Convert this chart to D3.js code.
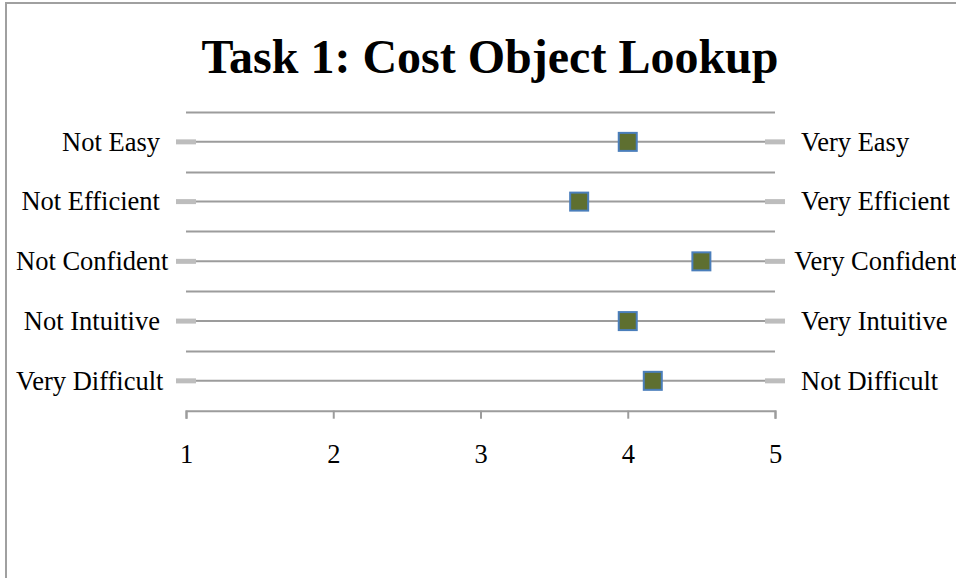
<!DOCTYPE html>
<html>
<head>
<meta charset="utf-8">
<script src="https://cdn.jsdelivr.net/npm/d3@7"></script>
<style>
  body { margin: 0; background: #fff; }
  text { font-family: "Liberation Serif", "Times New Roman", serif; fill: #000; }
</style>
</head>
<body>
<div id="chart"></div>
<script>
const leftLabels = ["Not Easy", "Not Efficient", "Not Confident", "Not Intuitive", "Very Difficult"];
const rightLabels = ["Very Easy", "Very Efficient", "Very Confident", "Very Intuitive", "Not Difficult"];
const scores = [4.0, 3.67, 4.5, 4.0, 4.17];
const scaleTicks = [1, 2, 3, 4, 5];
const chartTitle = "Task 1: Cost Object Lookup";

const width = 956, height = 578;

const svg = d3.select("#chart")
  .append("svg")
    .attr("width", width)
    .attr("height", height);

// outer chart border (only left and top are inside the picture)
svg.append("rect")
    .attr("x", 6)
    .attr("y", 3)
    .attr("width", 1200)
    .attr("height", 1200)
    .attr("fill", "none")
    .attr("stroke", "#a0a0a0")
    .attr("stroke-width", 2);

const x = d3.scaleLinear()
    .domain([1, 5])
    .range([186, 775]);

const y = d3.scaleBand()
    .domain(leftLabels)
    .range([112, 410.7])
    .padding(0);

const rows = leftLabels.map((d, i) => ({left: d, right: rightLabels[i], value: scores[i]}));

svg.append("text")
    .attr("x", 490)
    .attr("y", 73)
    .attr("text-anchor", "middle")
    .style("font-size", "48px")
    .style("font-weight", "bold")
    .text(chartTitle);

// band separators
svg.append("g")
  .selectAll("line")
  .data(leftLabels)
  .join("line")
    .attr("x1", x(1))
    .attr("x2", x(5))
    .attr("y1", d => Math.round(y(d)) + 0.5)
    .attr("y2", d => Math.round(y(d)) + 0.5)
    .attr("stroke", "#9c9c9c")
    .attr("stroke-width", 2);

// row lines from 1 to 5
const cy = d => y(d.left) + y.bandwidth() / 2;

svg.append("g")
  .selectAll("line")
  .data(rows)
  .join("line")
    .attr("x1", x(1))
    .attr("x2", x(5))
    .attr("y1", cy)
    .attr("y2", cy)
    .attr("stroke", "#9c9c9c")
    .attr("stroke-width", 2);

// dash markers at both ends
const ends = rows.flatMap(d => [{row: d, v: 1}, {row: d, v: 5}]);
svg.append("g")
  .selectAll("line")
  .data(ends)
  .join("line")
    .attr("x1", d => x(d.v) - 10)
    .attr("x2", d => x(d.v) + 10)
    .attr("y1", d => cy(d.row))
    .attr("y2", d => cy(d.row))
    .attr("stroke", "#bdbdbd")
    .attr("stroke-width", 5);

// score markers
svg.append("g")
  .selectAll("rect")
  .data(rows)
  .join("rect")
    .attr("x", d => x(d.value) - 9)
    .attr("y", d => cy(d) - 9)
    .attr("width", 18)
    .attr("height", 18)
    .attr("fill", "#5e6f30")
    .attr("stroke", "#4a7ebb")
    .attr("stroke-width", 2);

// left labels: right aligned at 160, pushed right when too long
svg.append("g")
  .selectAll("text")
  .data(rows)
  .join("text")
    .attr("y", cy)
    .attr("dy", "0.33em")
    .style("font-size", "26.5px")
    .text(d => d.left)
    .attr("x", function() {
      const w = this.getComputedTextLength();
      return Math.max(160 - w, 16);
    });

// right labels: left aligned at 801, pulled left when too long
svg.append("g")
  .selectAll("text")
  .data(rows)
  .join("text")
    .attr("y", cy)
    .attr("dy", "0.33em")
    .style("font-size", "26.5px")
    .text(d => d.right)
    .attr("x", function() {
      const w = this.getComputedTextLength();
      return Math.min(801, 957 - w);
    });

// value axis
const axis = svg.append("g")
    .attr("transform", "translate(0, 410.7)")
    .call(d3.axisBottom(x).tickValues(scaleTicks).tickFormat(d3.format("d")).tickSize(8).tickSizeOuter(8).tickPadding(25));

axis.select(".domain")
    .attr("stroke", "#9c9c9c")
    .attr("stroke-width", 2);
axis.selectAll(".tick line")
    .attr("stroke", "#9c9c9c")
    .attr("stroke-width", 2);
axis.selectAll(".tick text")
    .style("font-family", "'Liberation Serif', serif")
    .style("font-size", "26.5px")
    .attr("fill", "#000");
</script>
</body>
</html>
